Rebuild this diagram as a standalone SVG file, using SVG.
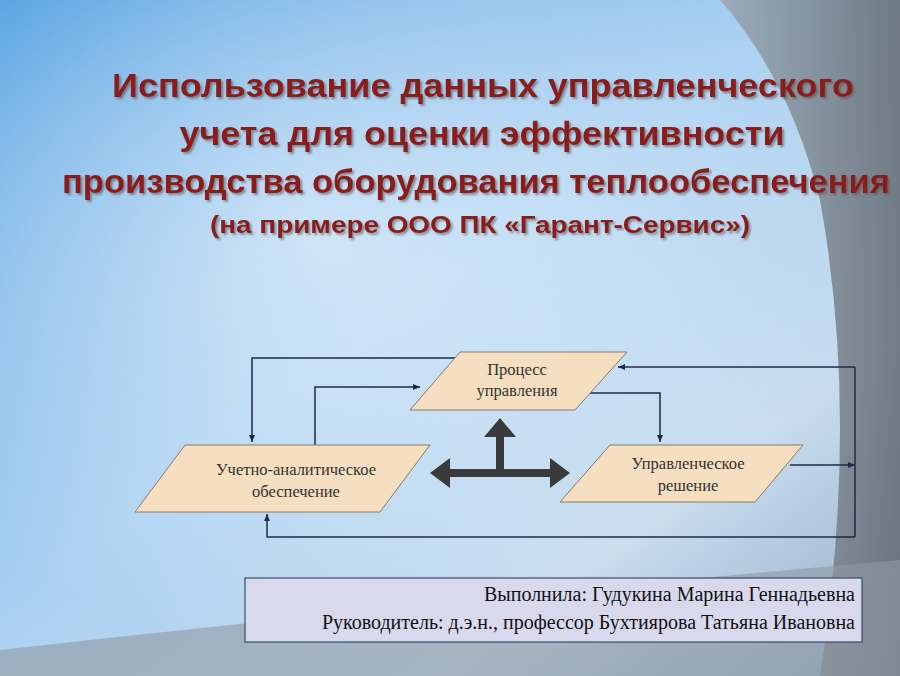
<svg xmlns="http://www.w3.org/2000/svg" width="900" height="676" viewBox="0 0 900 676">
<defs>
<linearGradient id="bg" x1="0" y1="0" x2="1" y2="1">
<stop offset="0" stop-color="#4a9be0"/><stop offset="0.45" stop-color="#a9d0f2"/><stop offset="0.75" stop-color="#c7dcee"/><stop offset="1" stop-color="#8fa9c4"/>
</linearGradient>
<radialGradient id="glow" cx="0.35" cy="0.35" r="0.6">
<stop offset="0" stop-color="#ffffff" stop-opacity="0.55"/><stop offset="1" stop-color="#ffffff" stop-opacity="0"/>
</radialGradient>
<linearGradient id="grey" x1="0" y1="0" x2="1" y2="0">
<stop offset="0" stop-color="#9aa4ad"/><stop offset="1" stop-color="#5d656c"/>
</linearGradient>
<marker id="a" markerWidth="8" markerHeight="8" refX="7" refY="4" orient="auto" markerUnits="userSpaceOnUse">
<path d="M0,1 L7,4 L0,7 Z" fill="#1d2b4a"/>
</marker>
<filter id="sh"><feDropShadow dx="2" dy="2" stdDeviation="1" flood-color="#555" flood-opacity="0.6"/></filter>
<style>
.t{font-family:"Liberation Sans",Arial,sans-serif;font-weight:bold;fill:#8a1c1c;text-anchor:middle}
.n{fill:#f5dfc0;stroke:#8a7a66;stroke-width:1}
.l{font-family:"Liberation Serif",serif;font-size:16.5px;fill:#333;text-anchor:middle}
.c{fill:none;stroke:#1d2b4a;stroke-width:1.5}
.b{font-family:"Liberation Serif",serif;font-size:20px;fill:#111;text-anchor:end}
</style>
</defs>
<rect width="900" height="676" fill="url(#bg)"/>
<rect width="900" height="676" fill="url(#glow)"/>
<path d="M720,0 L900,0 L900,676 L820,676 Q860,420 820,200 Q790,80 720,0 Z" fill="url(#grey)" opacity="0.8"/>
<path d="M0,650 Q450,600 900,560 L900,676 L0,676 Z" fill="#8f99a3" opacity="0.6"/>
<g filter="url(#sh)">
<text class="t" x="483" y="97" font-size="33" textLength="742" lengthAdjust="spacingAndGlyphs">Использование данных управленческого</text>
<text class="t" x="482" y="145" font-size="33" textLength="605" lengthAdjust="spacingAndGlyphs">учета для оценки эффективности</text>
<text class="t" x="476" y="193" font-size="33" textLength="828" lengthAdjust="spacingAndGlyphs">производства оборудования теплообеспечения</text>
<text class="t" x="480" y="233" font-size="23" textLength="540" lengthAdjust="spacingAndGlyphs">(на примере ООО ПК «Гарант-Сервис»)</text>
</g>
<g id="connectors">
<path class="c" d="M455,358 H252 V442" marker-end="url(#a)"/>
<path class="c" d="M315,445 V387 H420" marker-end="url(#a)"/>
<path class="c" d="M585,393 H660 V442" marker-end="url(#a)"/>
<path class="c" d="M790,465 H855" marker-end="url(#a)"/>
<path class="c" d="M855,367 V537"/>
<path class="c" d="M855,367 H618" marker-end="url(#a)"/>
<path class="c" d="M855,537 H267 V514" marker-end="url(#a)"/>
</g>
<g id="cross" fill="#3a3a3a">
<path d="M430,473 L450,458 L450,469 L496,469 L496,437 L484,437 L500,418 L516,437 L504,437 L504,469 L550,469 L550,458 L570,473 L550,488 L550,477 L450,477 L450,488 Z"/>
</g>
<g id="process"><path class="n" d="M460,352 H627 L575,410 H410 Z"/>
<text class="l" x="517" y="375">Процесс</text><text class="l" x="517" y="396">управления</text></g>
<g id="uchet"><path class="n" d="M185,445 H430 L380,512 H135 Z"/>
<text class="l" x="296" y="475">Учетно-аналитическое</text><text class="l" x="296" y="497">обеспечение</text></g>
<g id="reshenie"><path class="n" d="M610,445 H803 L755,502 H560 Z"/>
<text class="l" x="688" y="469">Управленческое</text><text class="l" x="688" y="491">решение</text></g>
<g id="info">
<rect x="245" y="578" width="617" height="64" fill="#d9d9ee" stroke="#3a4a6a" stroke-width="1.2"/>
<text class="b" x="855" y="601">Выполнила: Гудукина Марина Геннадьевна</text>
<text class="b" x="855" y="629">Руководитель: д.э.н., профессор Бухтиярова Татьяна Ивановна</text>
</g>
</svg>
